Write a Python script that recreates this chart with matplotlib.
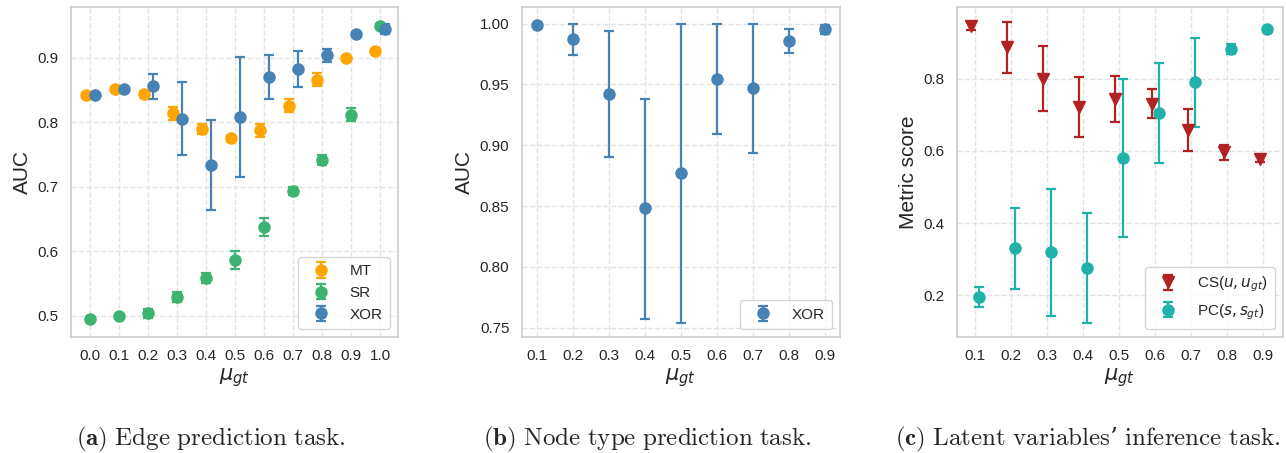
import numpy as np
import matplotlib
matplotlib.use("Agg")
import matplotlib.pyplot as plt
import seaborn as sns

sns.set_theme(style="whitegrid")
plt.rcParams['font.family'] = ['Liberation Sans', 'DejaVu Sans']

# (a) edge prediction
mu_a = np.array([0.0, 0.1, 0.2, 0.3, 0.4, 0.5, 0.6, 0.7, 0.8, 0.9, 1.0])
mt_auc = [0.843, 0.852, 0.844, 0.814, 0.790, 0.775, 0.788, 0.826, 0.866, 0.900, 0.911]
mt_err = [0.002, 0.003, 0.004, 0.010, 0.008, 0.006, 0.010, 0.010, 0.010, 0.003, 0.003]
sr_auc = [0.495, 0.500, 0.504, 0.529, 0.559, 0.587, 0.637, 0.694, 0.742, 0.812, 0.949]
sr_err = [0.003, 0.003, 0.007, 0.008, 0.008, 0.014, 0.014, 0.006, 0.008, 0.010, 0.003]
xor_auc = [0.842, 0.852, 0.856, 0.806, 0.734, 0.809, 0.871, 0.883, 0.904, 0.937, 0.945]
xor_err = [0.002, 0.002, 0.019, 0.057, 0.070, 0.093, 0.034, 0.028, 0.010, 0.003, 0.008]

# (b) node type prediction
mu_b = np.array([0.1, 0.2, 0.3, 0.4, 0.5, 0.6, 0.7, 0.8, 0.9])
node_auc = np.array([0.9986, 0.987, 0.942, 0.848, 0.877, 0.9545, 0.947, 0.986, 0.9953])
node_lo = np.array([0.9986, 0.974, 0.890, 0.757, 0.754, 0.909, 0.894, 0.976, 0.9918])
node_hi = np.array([0.9986, 1.000, 0.994, 0.938, 1.000, 1.000, 1.000, 0.9956, 0.9988])

# (c) latent variables
mu_c = np.array([0.1, 0.2, 0.3, 0.4, 0.5, 0.6, 0.7, 0.8, 0.9])
cs_score = [0.946, 0.886, 0.800, 0.722, 0.743, 0.731, 0.657, 0.596, 0.578]
cs_err = [0.011, 0.070, 0.090, 0.083, 0.063, 0.040, 0.058, 0.021, 0.008]
pc_score = [0.196, 0.331, 0.319, 0.276, 0.580, 0.705, 0.790, 0.881, 0.938]
pc_err = [0.027, 0.112, 0.176, 0.151, 0.218, 0.139, 0.123, 0.014, 0.004]

captions = [r"$\mathbf{(a)}\ \mathrm{Edge\ prediction\ task.}$",
            r"$\mathbf{(b)}\ \mathrm{Node\ type\ prediction\ task.}$",
            r"$\mathbf{(c)}\ \mathrm{Latent\ variables}$’$\ \mathrm{inference\ task.}$"]

fig = plt.figure(figsize=(12.86, 4.53), dpi=100)
W, H = 1286, 453
def add_ax(x0, x1, y0=7, y1=337):
    return fig.add_axes([x0 / W, 1 - y1 / H, (x1 - x0) / W, (y1 - y0) / H])

ax1 = add_ax(71, 398)
ax2 = add_ax(522, 840)
ax3 = add_ax(957, 1283)

kw = dict(fmt='o', markersize=8, capsize=3.5, elinewidth=1.6, capthick=1.6)

d = 0.016
ax1.errorbar(mu_a - d, mt_auc, yerr=mt_err, color='#FFA500', label='MT', **kw)
ax1.errorbar(mu_a, sr_auc, yerr=sr_err, color='#3CB371', label='SR', **kw)
ax1.errorbar(mu_a + d, xor_auc, yerr=xor_err, color='#4682B4', label='XOR', **kw)
ax1.set_xticks(mu_a)
ax1.set_xticklabels([f"{v:.1f}" for v in mu_a])
ax1.set_xlim(-0.067, 1.062)
ax1.set_ylim(0.467, 0.979)
ax1.set_yticks([0.5, 0.6, 0.7, 0.8, 0.9])
ax1.set_ylabel('AUC', fontsize=15)

ax2.errorbar(mu_b, node_auc, yerr=[node_auc - node_lo, node_hi - node_auc],
             color='#4682B4', label='XOR', **kw)
ax2.set_xticks(mu_b)
ax2.set_xlim(0.059, 0.941)
ax2.set_ylim(0.7423, 1.0137)
ax2.set_yticks([0.75, 0.80, 0.85, 0.90, 0.95, 1.00])
ax2.set_yticklabels(["0.75", "0.80", "0.85", "0.90", "0.95", "1.00"])
ax2.set_ylabel('AUC', fontsize=15)

kw_v = dict(kw)
kw_v['fmt'] = 'v'
ax3.errorbar(mu_c - 0.01, cs_score, yerr=cs_err, color='#B22222',
             label=r'CS($u, u_{gt}$)', **kw_v)
ax3.errorbar(mu_c + 0.01, pc_score, yerr=pc_err, color='#20B2AA',
             label=r'PC($s, s_{gt}$)', **kw)
ax3.set_xticks(mu_c)
ax3.set_xlim(0.05, 0.955)
ax3.set_ylim(0.085, 0.998)
ax3.set_yticks([0.2, 0.4, 0.6, 0.8])
ax3.set_ylabel('Metric score', fontsize=15)

for ax in (ax1, ax2, ax3):
    ax.set_xlabel(r'$\mu_{gt}$', fontsize=15, labelpad=2)
    ax.tick_params(labelsize=11, pad=3)
    ax.grid(True, linestyle='--', color='#e3e3e3', linewidth=1)
    for s in ax.spines.values():
        s.set_color('#cccccc')
        s.set_linewidth(1.2)
    ax.legend(loc='lower right', fontsize=11, handletextpad=0.9, borderpad=0.5)

centers = [211, 647, 1088]
for c, t in zip(centers, captions):
    fig.text(c / W, 1 - 439 / H, t, ha='center', va='center', fontsize=18,
             family='DejaVu Serif', math_fontfamily='cm')

fig.savefig('out.png', dpi=100)
